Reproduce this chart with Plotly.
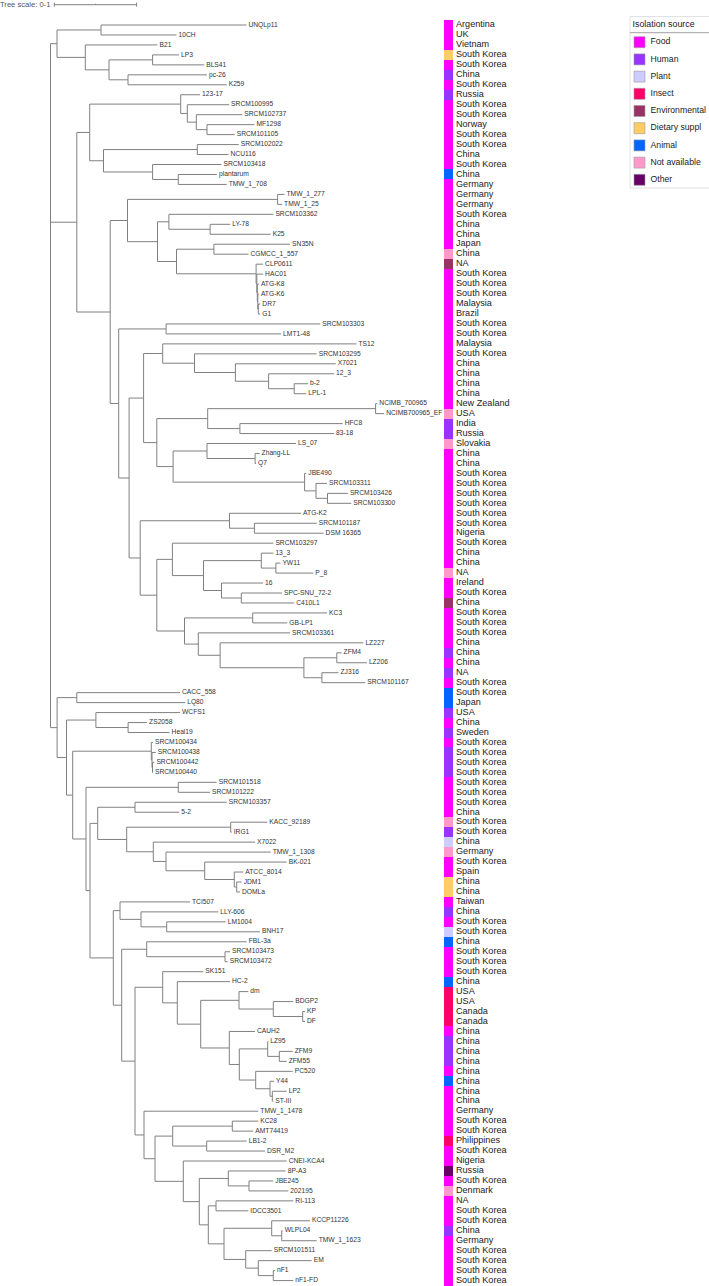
import plotly.graph_objects as go

# ---------------------------------------------------------------- data
# Branch lengths were read off the chart in "bar units": the 0.1 tree-scale bar = 82.3 units.
SCALE_BAR_VALUE = 0.1
SCALE_BAR_UNITS = 82.3

CLADE_TOP = "((UNQLp11:145.4,10CH:75.5):44,(B21:72.2,((LP3:26.4,BLS41:51.6):43.6,(pc-26:79,K259:98.7):19):23.7):28.3):6.5"
CLADE_MID_A = ("((123-17:19.3,(SRCM100995:41.8,(SRCM102737:46,(MF1298:47.4,SRCM101105:27.7):10.7):9):6.6):91,"
               "((SRCM102022:41.5,NCU116:31.2):93.8,(SRCM103418:68.9,(plantarum:38.7,TMW_1_708:48.4):25.7):49.1):13.8):12.9")
CLADE_MID_B1 = ("((TMW_1_277:6.9,TMW_1_25:4.5):150.1,((SRCM103362:104.5,(LY-78:20.1,K25:60.6):41.2):11.4,"
                "((SN35N:76.2,CGMCC_1_557:34.6):37.4,(CLP0611:7,(HAC01:6.3,(ATG-K8:1.6,(ATG-K6:1.1,(DR7:2,G1:2):0.5):0.5):0.5):0.7):79.6):19):30):17.3")
CLADE_TS12 = "(TS12:193.8,(SRCM103295:122.2,(X7021:100.4,(12_3:65.4,(b-2:13.9,LPL-1:12.1):25.6):33.2):40.9):31.8):19.1"
CLADE_NCIMB = "((NCIMB_700965:1.7,NCIMB700965_EF:8.6):167.9,(HFC8:102.8,83-18:94.1):32.2):50.9"
CLADE_LS07 = ("((LS_07:89,(Zhang-LL:4.5,Q7:1):48.1):33.9,(JBE490:1.7,(SRCM103311:11.1,"
              "(SRCM103426:20.4,SRCM103300:23.8):11.5):11.4):131.5):16.3")
CLADE_ATGK2 = "(ATG-K2:71.6,(SRCM101187:62.3,DSM 16365:69.2):24.9):89.3"
CLADE_SRCM103297 = ("(SRCM103297:101,((13_3:12.1,(YW11:4.5,P_8:37.4):14.6):57.8,"
                    "(16:41.6,(SPC-SNU_72-2:40.8,C410L1:52.9):19.8):18):31.1):15.6")
CLADE_KC3 = ("((KC3:74.4,GB-LP1:34.6):68.2,(SRCM103361:91.8,(LZ227:143.3,((ZFM4:4.8,LZ206:30.1):32.9,"
             "(ZJ316:16.6,SRCM101167:43.3):18):83.8):21.8):13.8):27.7")
CLADE_SRCM103357 = ("((SRCM103357:91.7,5-2:44.3):37.3,((KACC_92189:36.6,IRG1:1):104,(X7022:101.7,(TMW_1_1308:104.7,"
                    "(BK-021:82,(ATCC_8014:9,(JDM1:5,DOMLa:3.3):2.4):29.6):38.7):12.7):26.6):29):7.7")
CLADE_SK151 = ("(SK151:40.6,(HC-2:52.7,((dm:9.3,(BDGP2:20,(KP:2.3,DF:2.3):29.4):34.3):38.3,(CAUH2:25.7,"
               "((LZ95:0.6,(ZFM9:13.4,ZFM55:7.4):11.6):28.4,(PC520:37,(Y44:4,(LP2:14.4,ST-III:1):2.3):14.3):16.4):10):28.6):23.4):14.6):27.7")
CLADE_TMW1478 = ("(TMW_1_1478:114.3,(((KC28:26,AMT74419:21):59.6,(LB1-2:40,DSR_M2:58.3):34):17.7,(CNEI-KCA4:103.4,"
                 "((8P-A3:57.4,(JBE245:24.3,202195:39.3):20.7):29,((RI-113:77.3,IDCC3501:32.3):7.7,"
                 "((KCCP11226:38.3,(WLPL04:1,TMW_1_1623:35):10):47.7,(SRCM101511:26,(EM:53.4,(nF1:1.7,nF1-FD:20):15):12.6):21.7):15.7):9):16):28.3):11):9")
CLADE_TCI507 = ("((TCI507:70,(LLY-606:77.3,(LM1004:59,BNH17:93.3):25.7):21):6.7,((FBL-3a:100,(SRCM103473:5,SRCM103472:2.7):78.3):25,("
                + CLADE_SK151 + "," + CLADE_TMW1478 + "):13.3):8.4):23.3")
CLADE_BOTTOM = ("((CACC_558:103.2,LQ80:108.4):19.7,((WCFS1:84.1,(ZS2058:19,Heal19:41.5):32.2):29.4,"
                "((SRCM100434:1.7,(SRCM100438:3.8,(SRCM100442:1.9,SRCM100440:0.5):0.5):0.7):78.6,"
                "((SRCM101518:38.4,SRCM101222:31.7):92.3,(" + CLADE_SRCM103357 + "," + CLADE_TCI507 + "):4):13.3):6.2):9.4):6.6")

NEWICK = ("(" + CLADE_TOP + ",(" + CLADE_MID_A + ",(" + CLADE_MID_B1 + ","
          "((SRCM103303:154.1,LMT1-48:115):47.4,(("
          + CLADE_TS12 + ",(" + CLADE_NCIMB + "," + CLADE_LS07 + "):13.2):14.5,("
          + CLADE_ATGK2 + ",(" + CLADE_SRCM103297 + "," + CLADE_KC3 + "):16.6):11.1):10.4):8.5):33.4):26.3,"
          + CLADE_BOTTOM + ");")

COUNTRIES = [
    "Argentina", "UK", "Vietnam", "South Korea", "South Korea", "China", "South Korea", "Russia", "South Korea", "South Korea",
    "Norway", "South Korea", "South Korea", "China", "South Korea", "China", "Germany", "Germany", "Germany", "South Korea",
    "China", "China", "Japan", "China", "NA", "South Korea", "South Korea", "South Korea", "Malaysia", "Brazil",
    "South Korea", "South Korea", "Malaysia", "South Korea", "China", "China", "China", "China", "New Zealand", "USA",
    "India", "Russia", "Slovakia", "China", "China", "South Korea", "South Korea", "South Korea", "South Korea", "South Korea",
    "South Korea", "Nigeria", "South Korea", "China", "China", "NA", "Ireland", "South Korea", "China", "South Korea",
    "South Korea", "South Korea", "China", "China", "China", "NA", "South Korea", "South Korea", "Japan", "USA",
    "China", "Sweden", "South Korea", "South Korea", "South Korea", "South Korea", "South Korea", "South Korea", "South Korea", "China",
    "South Korea", "South Korea", "China", "Germany", "South Korea", "Spain", "China", "China", "Taiwan", "China",
    "South Korea", "South Korea", "China", "South Korea", "South Korea", "South Korea", "China", "USA", "USA", "Canada",
    "Canada", "China", "China", "China", "China", "China", "China", "China", "China", "Germany",
    "South Korea", "South Korea", "Philippines", "South Korea", "Nigeria", "Russia", "South Korea", "Denmark", "NA", "South Korea",
    "South Korea", "China", "Germany", "South Korea", "South Korea", "South Korea", "South Korea",
]

# F Food, H Human, P Plant, I Insect, E Environmental, D Dietary suppl, A Animal, N Not available, O Other
SOURCES = list(
    "FFFDFHFHFF" "FFFFFAFFFF" "FFFNEFFFFF" "FFFFFFFFFN" "HHNFFFFFFF"
    "FFFFFNFFEF" "FFFHFHFAAH" "FHFHHHFFFF" "NHPNFFDDFH" "FPAFFFAIII"
    "IFHHHFAFFF" "FFIFFOFNFF" "FHFFFFF"
)
SOURCE_CODES = ["F", "H", "P", "I", "E", "D", "A", "N", "O"]
SOURCE_NAMES = ["Food", "Human", "Plant", "Insect", "Environmental", "Dietary suppl", "Animal", "Not available", "Other"]
SOURCE_COLORS = ["#ff00ff", "#9933ff", "#ccccff", "#ff0066", "#993366", "#ffcc66", "#0066ff", "#ff99cc", "#660066"]

# ---------------------------------------------------------------- layout constants (pixels)
W, H = 709, 1286
ROOT_PX = 50.5
ROW0_PX, ROW_STEP = 25.0, 9.965
FONT = "Liberation Sans, Arial, Helvetica, sans-serif"


def parse_newick(s):
    pos = 0

    def node():
        nonlocal pos
        children = []
        if s[pos] == "(":
            pos += 1
            while True:
                children.append(node())
                if s[pos] == ",":
                    pos += 1
                    continue
                if s[pos] == ")":
                    pos += 1
                    break
        start = pos
        while pos < len(s) and s[pos] not in ":,();":
            pos += 1
        name = s[start:pos].strip()
        length = 0.0
        if pos < len(s) and s[pos] == ":":
            pos += 1
            start = pos
            while s[pos] not in ",();":
                pos += 1
            length = float(s[start:pos])
        return {"name": name, "len": length, "children": children}

    return node()


to_subst = SCALE_BAR_VALUE / SCALE_BAR_UNITS
tree = parse_newick(NEWICK)
leaves = []


def place(n, depth):
    n["x"] = depth
    if not n["children"]:
        leaves.append(n)
        n["y"] = len(leaves)
    else:
        for c in n["children"]:
            place(c, depth + c["len"] * to_subst)
        n["y"] = (n["children"][0]["y"] + n["children"][-1]["y"]) / 2


place(tree, 0.0)
assert len(leaves) == len(COUNTRIES) == len(SOURCES), (len(leaves), len(COUNTRIES), len(SOURCES))

xs, ys = [], []


def segs(n):
    if n["children"]:
        xs.extend([n["x"], n["x"], None])
        ys.extend([n["children"][0]["y"], n["children"][-1]["y"], None])
        for c in n["children"]:
            xs.extend([n["x"], c["x"], None])
            ys.extend([c["y"], c["y"], None])
            segs(c)


segs(tree)

px_per_subst = SCALE_BAR_UNITS / SCALE_BAR_VALUE  # pixel per substitution unit
x_range = [-ROOT_PX / px_per_subst, (W - ROOT_PX) / px_per_subst]
y_range = [1 + (H - ROW0_PX) / ROW_STEP, 1 - ROW0_PX / ROW_STEP]

rows = [lf["y"] for lf in leaves]
colors = [SOURCE_COLORS[SOURCE_CODES.index(s)] for s in SOURCES]

fig = go.Figure()

# tree branches
fig.add_trace(go.Scatter(x=xs, y=ys, mode="lines", line=dict(color="#808080", width=1),
                         hoverinfo="skip", showlegend=False))
# tip labels
label_gap = 2.0 / px_per_subst
fig.add_trace(go.Scatter(x=[lf["x"] + label_gap for lf in leaves], y=rows, mode="text",
                         text=[lf["name"] for lf in leaves], textposition="middle right",
                         textfont=dict(family=FONT, size=6.7, color="#333333"),
                         cliponaxis=False, hoverinfo="skip", showlegend=False))
# colour strip
fig.add_trace(go.Bar(orientation="h", y=rows, x=[8.7] * len(rows), base=444, width=1,
                     marker=dict(color=colors, line=dict(width=0)),
                     xaxis="x2", yaxis="y", hoverinfo="skip", showlegend=False))
# countries
fig.add_trace(go.Scatter(x=[456.0] * len(rows), y=rows, mode="text", text=COUNTRIES,
                         textposition="middle right", textfont=dict(family=FONT, size=9.1, color="#222222"),
                         xaxis="x2", yaxis="y", cliponaxis=False, hoverinfo="skip", showlegend=False))

# legend
leg_y = [42.2 + 17.2 * i for i in range(len(SOURCE_NAMES))]
fig.add_trace(go.Scatter(x=[639.5] * len(leg_y), y=leg_y, mode="markers",
                         marker=dict(symbol="square", size=11, color=SOURCE_COLORS,
                                     line=dict(color="#9a9a9a", width=0.6)),
                         xaxis="x2", yaxis="y2", cliponaxis=False, hoverinfo="skip", showlegend=False))
fig.add_trace(go.Scatter(x=[650.5] * len(leg_y), y=leg_y, mode="text", text=SOURCE_NAMES,
                         textposition="middle right", textfont=dict(family=FONT, size=8.7, color="#222222"),
                         xaxis="x2", yaxis="y2", cliponaxis=False, hoverinfo="skip", showlegend=False))
fig.add_trace(go.Scatter(x=[632.5], y=[25], mode="text", text=["Isolation source"],
                         textposition="middle right", textfont=dict(family=FONT, size=8.9, color="#222222"),
                         xaxis="x2", yaxis="y2", cliponaxis=False, hoverinfo="skip", showlegend=False))

# tree scale bar
sb_x0 = (54.3 - ROOT_PX) / px_per_subst
sb_x1 = sb_x0 + SCALE_BAR_VALUE
sb_xm = sb_x0 + SCALE_BAR_VALUE / 2
fig.add_trace(go.Scatter(
    x=[sb_x0, sb_x1, None, sb_x0, sb_x0, None, sb_x1, sb_x1, None, sb_xm, sb_xm],
    y=[4.7, 4.7, None, 2.7, 6.7, None, 2.7, 6.7, None, 3.7, 4.7],
    mode="lines", line=dict(color="#808080", width=1), xaxis="x", yaxis="y2",
    hoverinfo="skip", showlegend=False))
fig.add_trace(go.Scatter(x=[0], y=[4.7], mode="text", text=["Tree scale: 0-1"],
                         textposition="middle right", textfont=dict(family=FONT, size=7.6, color="#555555"),
                         xaxis="x2", yaxis="y2", cliponaxis=False, hoverinfo="skip", showlegend=False))

fig.update_layout(
    width=W, height=H, margin=dict(l=0, r=0, t=0, b=0),
    paper_bgcolor="white", plot_bgcolor="white",
    bargap=0, barmode="overlay", showlegend=False,
    xaxis=dict(range=x_range, visible=False, fixedrange=True),
    yaxis=dict(range=y_range, visible=False, fixedrange=True),
    xaxis2=dict(range=[0, W], visible=False, overlaying="x", fixedrange=True),
    yaxis2=dict(range=[H, 0], visible=False, overlaying="y", fixedrange=True),
    shapes=[
        dict(type="rect", xref="x2", yref="y2", x0=630, x1=712, y0=16.5, y1=188,
             line=dict(color="#e2e2e2", width=1), fillcolor="rgba(0,0,0,0)", layer="below"),
        dict(type="line", xref="x2", yref="y2", x0=630, x1=709, y0=32.7, y1=32.7,
             line=dict(color="#a0a0a0", width=1)),
    ],
)

fig.write_html("out.html", include_plotlyjs=True, full_html=True,
               config={"displayModeBar": False, "staticPlot": True},
               post_script="document.body.style.margin='0';document.body.style.overflow='hidden';")
